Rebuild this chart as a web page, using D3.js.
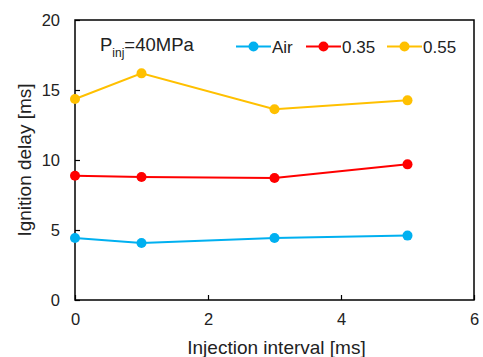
<!DOCTYPE html>
<html>
<head>
<meta charset="utf-8">
<script src="https://cdn.jsdelivr.net/npm/d3@7"></script>
<style>
  body { margin: 0; background: #fff; }
  text { font-family: "Liberation Sans", Arial, sans-serif; fill: #222; }
</style>
</head>
<body>
<div id="chart"></div>
<script>
const intervals = [0, 1, 3, 5];
const seriesNames = ['Air', '0.35', '0.55'];
const seriesColors = ['#00B0F0', '#FF0000', '#FFC000'];
const airValues = [4.43, 4.07, 4.43, 4.6];
const v035Values = [8.88, 8.79, 8.71, 9.69];
const v055Values = [14.36, 16.19, 13.62, 14.26];
const xTicks = [0, 2, 4, 6];
const yTicks = [0, 5, 10, 15, 20];

const width = 483, height = 357;
const margin = {top: 20, right: 9, bottom: 57, left: 75};

const svg = d3.select('#chart')
    .append('svg')
    .attr('width', width)
    .attr('height', height);

const x = d3.scaleLinear().domain([0, 6]).range([margin.left, width - margin.right]);
const y = d3.scaleLinear().domain([0, 20]).range([height - margin.bottom, margin.top]);

// frame
svg.append('rect')
    .attr('x', x(0)).attr('y', y(20))
    .attr('width', x(6) - x(0)).attr('height', y(0) - y(20))
    .attr('fill', 'none').attr('stroke', '#000').attr('stroke-width', 1.5);

// axes with inward ticks
const xAxis = svg.append('g')
    .attr('transform', `translate(0, ${y(0)})`)
    .call(d3.axisBottom(x).tickValues(xTicks).tickFormat(d3.format('d'))
        .tickSizeInner(-5).tickSizeOuter(0).tickPadding(13));
const yAxis = svg.append('g')
    .attr('transform', `translate(${x(0)}, 0)`)
    .call(d3.axisLeft(y).tickValues(yTicks).tickFormat(d3.format('d'))
        .tickSizeInner(-5).tickSizeOuter(0).tickPadding(15));
[xAxis, yAxis].forEach(a => {
    a.select('.domain').remove();
    a.selectAll('.tick line').attr('stroke', '#000').attr('stroke-width', 1.2);
    a.selectAll('.tick text').style('font-size', '16.5px').attr('fill', '#222');
});

// axis titles
svg.append('text')
    .attr('x', x(3) + 2).attr('y', 354)
    .attr('text-anchor', 'middle')
    .style('font-size', '19px')
    .text('Injection interval [ms]');
svg.append('text')
    .attr('transform', `translate(31, ${y(10)}) rotate(-90)`)
    .attr('text-anchor', 'middle')
    .style('font-size', '19px')
    .text('Ignition delay [ms]');

// series
const series = [airValues, v035Values, v055Values].map((vals, i) => ({
    name: seriesNames[i],
    color: seriesColors[i],
    points: intervals.map((t, j) => ({t, v: vals[j]}))
}));

const line = d3.line().x(d => x(d.t)).y(d => y(d.v));

const groups = svg.selectAll('g.series')
    .data(series)
    .enter()
    .append('g')
    .attr('class', 'series');

groups.append('path')
    .attr('d', d => line(d.points))
    .attr('fill', 'none')
    .attr('stroke', d => d.color)
    .attr('stroke-width', 2);

groups.selectAll('circle')
    .data(d => d.points.map(p => ({...p, color: d.color})))
    .enter()
    .append('circle')
    .attr('cx', d => x(d.t))
    .attr('cy', d => y(d.v))
    .attr('r', 5)
    .attr('fill', d => d.color);

// legend
const legendX = [236, 306, 387];
const legend = svg.selectAll('g.legend')
    .data(series)
    .enter()
    .append('g')
    .attr('class', 'legend')
    .attr('transform', (d, i) => `translate(${legendX[i]}, 46.5)`);
legend.append('line')
    .attr('x1', 0).attr('x2', 35)
    .attr('stroke', d => d.color).attr('stroke-width', 2);
legend.append('circle')
    .attr('cx', 17.5).attr('r', 5)
    .attr('fill', d => d.color);
legend.append('text')
    .attr('x', 36).attr('dy', '0.36em')
    .style('font-size', '17px')
    .text(d => d.name);

// annotation
const ann = svg.append('text')
    .attr('x', 100).attr('y', 51)
    .style('font-size', '18.5px');
ann.append('tspan').text('P');
ann.append('tspan').attr('dy', 6).style('font-size', '12px').text('inj');
ann.append('tspan').attr('dy', -6).text('=40MPa');
</script>
</body>
</html>
